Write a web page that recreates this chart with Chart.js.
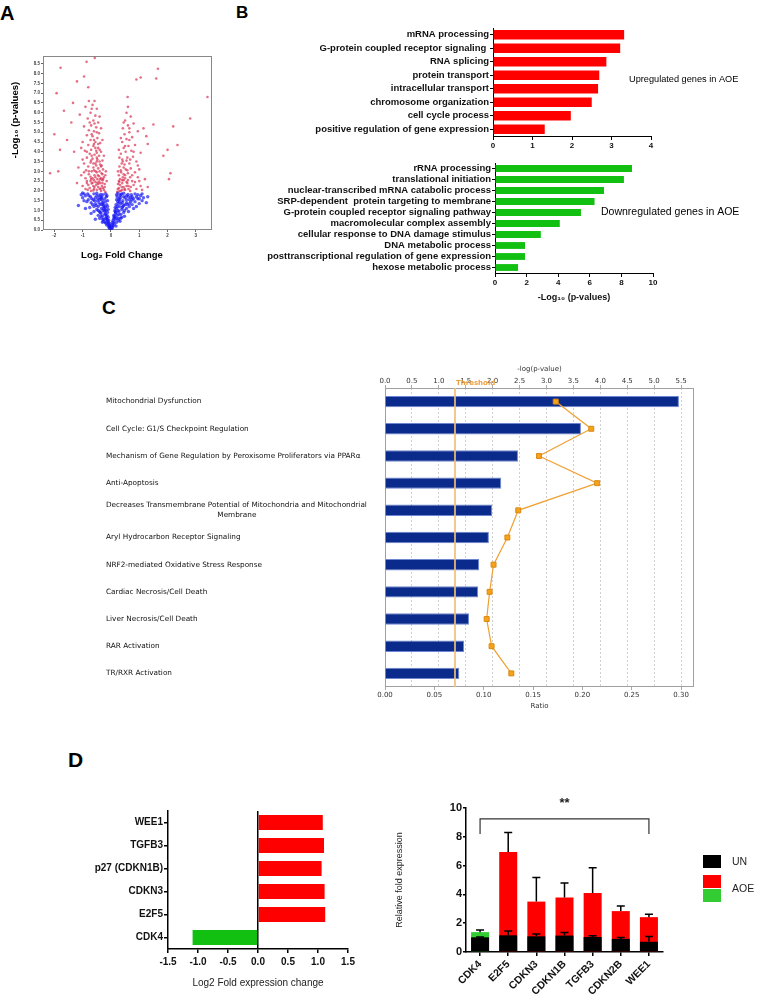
<!DOCTYPE html>
<html>
<head>
<meta charset="utf-8">
<script src="https://cdn.jsdelivr.net/npm/chart.js@4.4.1/dist/chart.umd.min.js"></script>
<style>
  body { margin: 0; background: #fff; }
  #page { position: relative; width: 772px; height: 1001px; overflow: hidden; font-family: 'Liberation Sans', Arial, sans-serif; }
  .letter { position: absolute; font-weight: bold; line-height: 1; color: #000; }
  canvas { position: absolute; }
</style>
</head>
<body>
<div id="page">
  <div class="letter" style="left:0px;top:3px;font-size:20px;">A</div>
  <div class="letter" style="left:236px;top:4px;font-size:17px;">B</div>
  <div class="letter" style="left:102px;top:298px;font-size:19px;">C</div>
  <div class="letter" style="left:68px;top:749px;font-size:21px;">D</div>

  <canvas id="volcano" width="220" height="230" style="left:0;top:40px;"></canvas>
  <canvas id="goUp" width="552" height="130" style="left:220px;top:20px;"></canvas>
  <canvas id="goDown" width="552" height="155" style="left:220px;top:150px;"></canvas>
  <canvas id="ipa" width="610" height="360" style="left:100px;top:355px;"></canvas>
  <canvas id="foldChange" width="340" height="200" style="left:20px;top:790px;"></canvas>
  <canvas id="qpcr" width="392" height="221" style="left:380px;top:780px;"></canvas>
</div>
<script>
// --- A: volcano plot, [log2 fold change, -log10 p] ---
const volcanoNonSig = [
  [-0.02,0.05],[-0.05,0.1],[-0.04,0.2],[-0.08,0.15],[-0.1,0.3],[-0.06,0.35],[-0.15,0.25],[-0.12,0.45],[-0.2,0.4],[-0.08,0.5],
  [-0.25,0.55],[-0.18,0.6],[-0.1,0.65],[-0.3,0.7],[-0.14,0.75],[-0.22,0.8],[-0.35,0.85],[-0.12,0.9],[-0.4,0.95],[-0.28,1.0],
  [-0.17,1.0],[-0.5,1.05],[-0.33,1.1],[-0.2,1.15],[-0.45,1.2],[-0.6,1.2],[-0.26,1.25],[-0.15,1.3],[-0.38,1.3],[-0.55,1.35],
  [-0.7,1.4],[-0.3,1.4],[-0.2,1.45],[-0.48,1.5],[-0.62,1.55],[-0.8,1.55],[-0.35,1.6],[-0.22,1.6],[-0.55,1.65],[-0.72,1.7],
  [-0.9,1.75],[-0.42,1.75],[-0.28,1.8],[-0.6,1.85],[-0.82,1.85],[-0.18,1.85],[-0.5,1.88],[-0.35,1.7],[-0.25,1.1],[-0.4,0.6],
  [-0.05,0.25],[-0.3,0.4],[-0.45,0.75],[-0.6,0.95],[-0.75,1.15],[-0.95,1.5],[-1.0,1.65],[-1.05,1.8],[-0.15,0.55],[-0.22,0.95],
  [-0.32,1.3],[-0.12,1.2],[-0.4,1.55],[-0.65,1.3],[-0.85,1.45],[-1.15,1.25],[-0.55,0.55],[-0.7,0.85],[-0.9,1.1],[-0.16,1.7],
  [-0.03,0.15],[-0.06,0.22],[-0.09,0.38],[-0.13,0.52],[-0.16,0.68],[-0.19,0.82],[-0.21,1.02],[-0.24,1.2],[-0.27,1.36],[-0.3,1.52],
  [-0.33,1.66],[-0.36,1.82],[-0.42,1.4],[-0.45,1.0],[-0.35,0.7],[-0.26,0.45],[-0.18,0.35],[-0.5,1.75],[-0.58,1.5],[-0.68,1.6],
  [-0.78,1.75],[-0.45,1.62],[-0.52,1.25],[-0.38,0.9],[-0.3,0.55],[-0.95,1.85],[-1.0,1.9],[-0.12,1.5],[-0.14,1.75],[-0.1,1.05],
  [0.02,0.05],[0.05,0.12],[0.08,0.2],[0.04,0.3],[0.12,0.3],[0.1,0.4],[0.2,0.4],[0.08,0.5],[0.15,0.55],[0.28,0.6],
  [0.12,0.7],[0.22,0.75],[0.35,0.8],[0.16,0.85],[0.45,0.9],[0.28,0.95],[0.14,1.0],[0.38,1.05],[0.55,1.1],[0.2,1.1],
  [0.3,1.2],[0.65,1.2],[0.45,1.25],[0.18,1.3],[0.75,1.3],[0.35,1.35],[0.55,1.4],[0.24,1.45],[0.85,1.45],[0.42,1.5],
  [0.65,1.55],[0.28,1.6],[0.95,1.6],[0.5,1.65],[0.75,1.7],[0.22,1.7],[1.05,1.75],[0.35,1.8],[0.6,1.82],[0.85,1.85],
  [0.25,1.88],[0.45,1.88],[1.1,1.5],[1.0,1.35],[0.9,1.2],[0.62,0.95],[0.48,0.7],[0.32,0.45],[0.18,0.2],[0.25,1.0],
  [0.4,1.4],[0.7,1.45],[0.55,1.75],[0.3,1.55],[0.15,0.95],[0.8,1.1],[1.15,1.65],[0.38,0.65],[0.5,1.3],[0.7,1.65],
  [0.95,1.8],[0.1,0.75],[0.05,0.4],[1.25,1.4],[1.3,1.7],[0.2,1.55],[0.32,1.75],
  [0.03,0.15],[0.06,0.25],[0.1,0.6],[0.14,0.65],[0.18,0.9],[0.22,1.2],[0.26,1.35],[0.3,1.45],[0.34,1.65],[0.38,1.85],
  [0.42,1.2],[0.48,1.0],[0.35,0.6],[0.26,0.5],[0.55,1.55],[0.62,1.7],[0.72,1.8],[0.8,1.6],[0.9,1.7],[1.0,1.6],
  [0.45,1.7],[0.58,1.3],[0.2,0.6],[0.28,0.8],[0.65,1.35],[0.75,1.55],[1.1,1.85],[0.2,1.8],[0.15,1.15],[0.4,1.15]
];
const volcanoSig = [
  [-0.2,1.95],[-0.35,2.0],[-0.5,2.05],[-0.7,2.0],[-0.9,2.1],[-0.28,2.15],[-0.45,2.2],[-0.62,2.25],[-0.8,2.3],[-1.0,2.25],
  [-0.22,2.35],[-0.38,2.4],[-0.55,2.45],[-0.72,2.5],[-0.3,2.55],[-0.48,2.6],[-0.65,2.65],[-0.9,2.65],[-0.25,2.7],[-0.42,2.75],
  [-0.58,2.8],[-0.78,2.85],[-1.05,2.8],[-0.33,2.9],[-0.5,2.95],[-0.68,3.0],[-0.88,3.05],[-0.28,3.1],[-0.45,3.15],[-0.62,3.2],
  [-0.8,3.25],[-0.38,3.35],[-0.55,3.4],[-0.72,3.45],[-0.95,3.4],[-0.3,3.55],[-0.48,3.6],[-0.65,3.65],[-0.85,3.7],[-0.42,3.8],
  [-0.58,3.85],[-0.75,3.9],[-0.35,4.0],[-0.52,4.05],[-0.7,4.1],[-0.92,4.05],[-0.45,4.2],[-0.62,4.3],[-0.8,4.35],[-0.38,4.45],
  [-0.55,4.5],[-0.72,4.6],[-1.0,4.5],[-0.48,4.7],[-0.65,4.8],[-0.85,4.85],[-0.42,4.95],[-0.6,5.05],[-0.78,5.1],[-0.52,5.25],
  [-0.7,5.35],[-0.95,5.3],[-0.45,5.5],[-0.62,5.6],[-0.82,5.7],[-0.55,5.85],[-0.72,6.0],[-0.5,6.2],[-0.65,6.4],[-0.9,6.3],
  [-1.1,5.9],[-1.15,3.2],[-1.2,2.4],[-0.15,2.5],[-0.18,3.0],[-0.25,3.8],[-0.3,4.6],[-0.35,5.2],[-0.4,2.1],[-0.6,2.1],
  [-0.75,2.15],[-0.32,2.25],[-0.52,2.3],[-0.68,2.38],[-0.42,2.48],[-0.6,2.55],[-0.35,2.65],[-0.55,2.7],[-0.72,2.72],[-0.4,3.0],
  [-0.6,3.05],[-0.35,3.25],[-0.52,3.3],[-0.7,3.55],[-0.5,3.95],[-0.6,4.4],[-0.58,6.6],[-0.78,6.6],[-1.05,4.2],[-1.3,4.0],
  [-1.4,5.5],[-0.25,2.05],[-0.45,2.35],[-0.65,2.42],[-0.3,2.85],[-0.5,3.5],[-0.4,4.1],[-0.68,4.9],[-0.58,5.45],[-0.85,2.4],
  [-0.22,2.2],[-0.3,2.4],[-0.38,2.6],[-0.46,2.8],[-0.54,3.0],[-0.62,3.4],[-0.5,3.7],[-0.4,3.5],[-0.33,3.3],[-0.28,2.6],
  [-0.78,3.0],[-0.85,2.5],[-0.95,2.95],[-0.68,3.8],[-0.55,4.2],[-0.45,4.4],[-0.6,4.6],[-0.75,5.5],[-0.5,5.0],[-0.4,5.8],
  [-0.68,6.2],[-0.85,4.0],[-1.0,3.6],[-0.2,2.8],[-0.58,2.2],[-0.7,2.6],[-0.48,2.42],[-0.36,2.12],[-0.62,2.02],[-0.82,2.05],
  [0.22,1.95],[0.35,2.0],[0.5,2.05],[0.68,2.0],[0.9,2.1],[0.28,2.15],[0.45,2.2],[0.62,2.25],[0.8,2.3],[1.05,2.25],
  [0.25,2.35],[0.4,2.4],[0.55,2.45],[0.75,2.5],[0.32,2.6],[0.5,2.65],[0.68,2.7],[0.95,2.7],[0.28,2.8],[0.45,2.85],
  [0.6,2.9],[0.85,2.95],[0.35,3.05],[0.52,3.1],[0.7,3.15],[1.0,3.1],[0.3,3.25],[0.48,3.35],[0.65,3.4],[0.9,3.5],
  [0.4,3.6],[0.58,3.7],[0.78,3.75],[0.35,3.9],[0.52,4.0],[0.72,4.05],[1.05,3.95],[0.45,4.2],[0.62,4.3],[0.85,4.35],
  [0.4,4.5],[0.55,4.65],[0.75,4.75],[0.48,4.9],[0.65,5.0],[0.95,5.05],[0.42,5.2],[0.6,5.35],[0.8,5.45],[0.5,5.6],
  [0.7,5.8],[0.55,6.0],[1.15,5.2],[1.25,4.8],[1.2,2.6],[0.3,2.45],[0.38,2.2],[0.55,2.25],[0.42,2.7],[0.6,2.55],
  [0.25,3.0],[0.38,3.4],[0.28,4.1],[0.45,3.2],[0.62,2.1],[1.1,2.05],[1.3,2.2],[0.6,6.3],[0.3,2.0],[0.45,2.55],
  [0.24,2.1],[0.32,2.3],[0.4,2.55],[0.5,2.8],[0.58,3.05],[0.36,2.95],[0.42,3.5],[0.55,3.55],[0.68,3.6],[0.3,3.7],
  [0.5,4.3],[0.65,4.6],[0.35,4.7],[0.75,2.8],[0.85,2.45],[0.95,3.3],[0.58,2.4],[0.48,2.1],[0.7,2.2],[0.28,2.5],
  [0.8,4.0],[0.45,5.5],[0.65,5.2],[1.0,2.5],[0.4,2.05],
  [-1.78,8.3],[-1.92,7.0],[-2.0,4.9],[-2.15,2.9],[-1.86,3.0],[-1.2,7.6],[-0.86,8.6],[-0.95,7.85],[-0.57,8.8],[-0.8,7.3],
  [1.66,8.25],[1.6,7.75],[0.9,7.7],[1.05,7.8],[0.59,6.8],[3.41,6.8],[2.8,5.7],[2.2,5.3],[2.35,4.35],[1.85,3.8],
  [2.0,4.1],[2.1,2.9],[2.05,2.6],[1.3,4.4],[1.5,5.4],[-1.8,4.1],[-1.55,4.6],[-1.66,6.1],[-1.34,6.5]
];

// --- B: GO terms, -log10(p) ---
const upTerms = ['mRNA processing', 'G-protein coupled receptor signaling ', 'RNA splicing', 'protein transport',
  'intracellular transport', 'chromosome organization', 'cell cycle process', 'positive regulation of gene expression'];
const upNegLogP = [3.32, 3.22, 2.87, 2.69, 2.66, 2.50, 1.97, 1.31];
const downTerms = ['rRNA processing', 'translational initiation', 'nuclear-transcribed mRNA catabolic process',
  'SRP-dependent  protein targeting to membrane', 'G-protein coupled receptor signaling pathway',
  'macromolecular complex assembly', 'cellular response to DNA damage stimulus', 'DNA metabolic process',
  'posttranscriptional regulation of gene expression', 'hexose metabolic process'];
const downNegLogP = [8.67, 8.16, 6.9, 6.3, 5.44, 4.1, 2.9, 1.9, 1.9, 1.46];

// --- C: IPA canonical pathways ---
const ipaPathways = ['Mitochondrial Dysfunction', 'Cell Cycle: G1/S Checkpoint Regulation',
  'Mechanism of Gene Regulation by Peroxisome Proliferators via PPARα', 'Anti-Apoptosis',
  'Decreases Transmembrane Potential of Mitochondria and Mitochondrial Membrane',
  'Aryl Hydrocarbon Receptor Signaling', 'NRF2-mediated Oxidative Stress Response',
  'Cardiac Necrosis/Cell Death', 'Liver Necrosis/Cell Death', 'RAR Activation', 'TR/RXR Activation'];
const ipaNegLogP = [5.46, 3.64, 2.47, 2.16, 1.99, 1.93, 1.75, 1.73, 1.56, 1.47, 1.38];
const ipaRatio = [0.173, 0.209, 0.156, 0.215, 0.135, 0.124, 0.110, 0.106, 0.103, 0.108, 0.128];
const ipaThreshold = 1.3;

// --- D: fold change and qPCR ---
const foldGenes = ['WEE1', 'TGFB3', 'p27 (CDKN1B)', 'CDKN3', 'E2F5', 'CDK4'];
const foldLog2 = [1.08, 1.10, 1.06, 1.11, 1.12, -1.09];
const qpcrGenes = ['CDK4', 'E2F5', 'CDKN3', 'CDKN1B', 'TGFB3', 'CDKN2B', 'WEE1'];
const qpcrUN = [1.02, 1.16, 1.09, 1.14, 1.04, 0.91, 0.71];
const qpcrUNErr = [1.05, 1.45, 1.25, 1.35, 1.12, 1.0, 1.07];
const qpcrAOE = [1.38, 6.95, 3.5, 3.78, 4.1, 2.84, 2.42];
const qpcrAOEErr = [1.52, 8.3, 5.17, 4.8, 5.85, 3.2, 2.63];
const qpcrLegend = ['UN', 'AOE', ''];

const RED = '#ff0000';
const GREEN = '#11c011';

Chart.defaults.font.family = "'Liberation Sans', Arial, sans-serif";
Chart.defaults.color = '#111';

// free text drawn on a chart canvas
const notesPlugin = {
  id: 'notes',
  afterDraw(chart, args, opts) {
    const ctx = chart.ctx;
    (opts.items || []).forEach(it => {
      ctx.save();
      ctx.font = it.font;
      ctx.fillStyle = it.color || '#000';
      ctx.textAlign = it.align || 'left';
      ctx.textBaseline = 'middle';
      ctx.translate(it.x, it.y);
      if (it.rotate) ctx.rotate(it.rotate);
      ctx.fillText(it.text, 0, 0);
      ctx.restore();
    });
  }
};

// plain box around the plot area
const framePlugin = {
  id: 'frame',
  beforeDatasetsDraw(chart, args, opts) {
    const { ctx, chartArea: a } = chart;
    ctx.save();
    ctx.strokeStyle = opts.color || '#888';
    ctx.lineWidth = 1;
    ctx.strokeRect(a.left + 0.5, a.top + 0.5, a.right - a.left - 1, a.bottom - a.top - 1);
    ctx.restore();
  }
};

const baseOpts = { animation: false, responsive: false };
const noLegend = { legend: { display: false }, tooltip: { enabled: false } };

// ---------- A ----------
new Chart(document.getElementById('volcano'), {
  type: 'scatter',
  data: {
    datasets: [
      { data: volcanoNonSig.map(p => ({ x: p[0], y: p[1] })), pointBackgroundColor: 'rgba(25,25,245,0.7)', pointRadius: 1.7, pointBorderWidth: 0 },
      { data: volcanoSig.map(p => ({ x: p[0], y: p[1] })), pointBackgroundColor: 'rgba(215,35,70,0.65)', pointRadius: 1.3, pointBorderWidth: 0 }
    ]
  },
  options: {
    ...baseOpts,
    layout: { padding: { top: 16, right: 8, left: 0, bottom: 0 } },
    scales: {
      x: {
        type: 'linear', min: -2.4, max: 3.57,
        afterFit: s => { s.height = 40; },
        ticks: { stepSize: 1, includeBounds: false, font: { size: 4.5, weight: 'bold' }, padding: 1, color: '#444', maxRotation: 0 },
        grid: { drawOnChartArea: false, tickLength: 2, color: '#666' },
        border: { display: false }
      },
      y: {
        min: 0, max: 8.9,
        afterFit: s => { s.width = 43; },
        ticks: { stepSize: 0.5, includeBounds: false, autoSkip: false, callback: v => v.toFixed(1), font: { size: 4.5, weight: 'bold' }, padding: 1, color: '#444' },
        grid: { drawOnChartArea: false, tickLength: 2, color: '#666' },
        border: { display: false }
      }
    },
    plugins: {
      ...noLegend,
      frame: { color: '#888' },
      notes: { items: [
        { text: 'Log\u2082 Fold Change', x: 122, y: 215, font: 'bold 9.5px "Liberation Sans", Arial', align: 'center' },
        { text: '-Log\u2081\u2080 (p-values)', x: 15, y: 80, font: 'bold 9.5px "Liberation Sans", Arial', align: 'center', rotate: -Math.PI / 2 }
      ] }
    }
  },
  plugins: [framePlugin, notesPlugin]
});

// ---------- B ----------
function termChart(id, terms, values, color, cfg) {
  return new Chart(document.getElementById(id), {
    type: 'bar',
    data: { labels: terms, datasets: [{ data: values, backgroundColor: color, barPercentage: cfg.barPct, categoryPercentage: 1 }] },
    options: {
      ...baseOpts,
      indexAxis: 'y',
      layout: { padding: { top: cfg.top, right: cfg.right, left: 0, bottom: 0 } },
      scales: {
        y: {
          afterFit: s => { s.width = cfg.yWidth; },
          ticks: { font: { size: 9.5, weight: 'bold' }, color: '#111', padding: 1, autoSkip: false },
          grid: { drawOnChartArea: false, offset: false, tickLength: 3, color: '#000' },
          border: { color: '#000', width: 1 }
        },
        x: {
          min: 0, max: cfg.max,
          afterFit: s => { s.height = cfg.xHeight; },
          ticks: { stepSize: cfg.step, font: { size: 8, weight: 'bold' }, padding: 1, color: '#111', maxRotation: 0 },
          grid: { drawOnChartArea: false, tickLength: 4, color: '#000' },
          border: { color: '#000', width: 1 },
          title: cfg.title ? { display: true, text: cfg.title, font: { size: 9, weight: 'bold' }, color: '#111', padding: { top: 0, bottom: 2 } } : { display: false }
        }
      },
      plugins: { ...noLegend, notes: { items: cfg.notes } }
    },
    plugins: [notesPlugin]
  });
}

termChart('goUp', upTerms, upNegLogP, RED, {
  top: 8, right: 121, yWidth: 273, xHeight: 14, max: 4, step: 1, barPct: 0.7,
  notes: [{ text: 'Upregulated genes in AOE', x: 409, y: 59, font: '9.2px "Liberation Sans", Arial' }]
});
termChart('goDown', downTerms, downNegLogP, GREEN, {
  top: 13, right: 119, yWidth: 275, xHeight: 32, max: 10, step: 2, barPct: 0.62,
  title: '-Log\u2081\u2080 (p-values)',
  notes: [{ text: 'Downregulated genes in AOE', x: 381, y: 62, font: '10.5px "Liberation Sans", Arial' }]
});

// ---------- C ----------
const ipaFont = { family: "'DejaVu Sans', Verdana, sans-serif", size: 7 };
const ipaLabelFont = { family: "'DejaVu Sans', Verdana, sans-serif", size: 7.3, lineHeight: 1.4 };
// long pathway names go on two lines, the second one centred under the first
const measureCtx = document.createElement('canvas').getContext('2d');
measureCtx.font = '7.3px "DejaVu Sans"';
function wrapPathway(name, maxW) {
  if (measureCtx.measureText(name).width <= maxW) return name;
  const words = name.split(' ');
  let first = '';
  while (words.length && measureCtx.measureText((first ? first + ' ' : '') + words[0]).width <= maxW) {
    first = (first ? first + ' ' : '') + words.shift();
  }
  const second = words.join(' ');
  const gap = measureCtx.measureText(first).width - measureCtx.measureText(second).width;
  const pad = Math.max(0, Math.round(gap / 2 / measureCtx.measureText(' ').width));
  return [first, ' '.repeat(pad) + second];
}

const thresholdPlugin = {
  id: 'threshold',
  afterDatasetsDraw(chart, args, opts) {
    const { ctx, chartArea: a } = chart;
    const px = chart.scales.x2.getPixelForValue(opts.value);
    ctx.save();
    ctx.strokeStyle = 'rgba(240,190,120,0.85)';
    ctx.lineWidth = 2;
    ctx.beginPath(); ctx.moveTo(px, a.top); ctx.lineTo(px, a.bottom); ctx.stroke();
    ctx.font = 'bold 7px "DejaVu Sans", Verdana';
    ctx.fillStyle = '#eea040';
    ctx.textBaseline = 'middle';
    ctx.fillText('Threshold', px + 1, a.top - 5);
    ctx.restore();
  }
};

new Chart(document.getElementById('ipa'), {
  type: 'bar',
  data: {
    labels: ipaPathways.map(p => wrapPathway(p, 292)),
    datasets: [
      {
        type: 'line', data: ipaRatio, xAxisID: 'x', yAxisID: 'y', indexAxis: 'y', order: 0,
        borderColor: '#eea033', borderWidth: 1.2, pointStyle: 'rect', pointRadius: 3.5,
        pointBackgroundColor: '#f7a21b', pointBorderColor: '#d98a10', pointBorderWidth: 1
      },
      {
        type: 'bar', data: ipaNegLogP, xAxisID: 'x2', yAxisID: 'y', indexAxis: 'y', order: 1,
        backgroundColor: '#0b2b8c', borderColor: '#6d86cf', borderWidth: 1,
        barPercentage: 0.42, categoryPercentage: 1
      }
    ]
  },
  options: {
    ...baseOpts,
    indexAxis: 'y',
    layout: { padding: { top: 0, right: 16, left: 6, bottom: 0 } },
    scales: {
      y: {
        afterFit: s => { s.width = 279; },
        ticks: { crossAlign: 'far', font: ipaLabelFont, color: '#111', autoSkip: false },
        grid: { display: false },
        border: { display: false }
      },
      x2: {
        position: 'top', min: 0, max: 5.74,
        afterFit: s => { s.height = 33; },
        ticks: { stepSize: 0.5, includeBounds: false, autoSkip: false, maxRotation: 0, callback: v => v.toFixed(1), font: ipaFont, color: '#333', padding: 0 },
        grid: { color: '#cfcfcf', tickLength: 3, tickColor: '#aaa' },
        border: { display: false, dash: [2, 2] },
        title: { display: true, text: '-log(p-value)', font: ipaFont, color: '#333', padding: { top: 10, bottom: 0 } }
      },
      x: {
        position: 'bottom', min: 0, max: 0.3131,
        afterFit: s => { s.height = 28; },
        ticks: { stepSize: 0.05, includeBounds: false, autoSkip: false, maxRotation: 0, callback: v => v.toFixed(2), font: ipaFont, color: '#333', padding: 1 },
        grid: { drawOnChartArea: false, tickLength: 3, color: '#aaa' },
        border: { display: false },
        title: { display: true, text: 'Ratio', font: ipaFont, color: '#333', padding: { top: 0, bottom: 5 } }
      }
    },
    plugins: { ...noLegend, frame: { color: '#a0a0a0' }, threshold: { value: ipaThreshold } }
  },
  plugins: [framePlugin, thresholdPlugin]
});

// ---------- D left ----------
new Chart(document.getElementById('foldChange'), {
  type: 'bar',
  data: {
    labels: foldGenes,
    datasets: [{ data: foldLog2, backgroundColor: foldLog2.map(v => v < 0 ? GREEN : RED), barPercentage: 0.65, categoryPercentage: 1 }]
  },
  options: {
    ...baseOpts,
    indexAxis: 'y',
    layout: { padding: { top: 21, right: 12, left: 0, bottom: 0 } },
    scales: {
      y: {
        afterFit: s => { s.width = 148; },
        ticks: { font: { size: 10, weight: 'bold' }, color: '#111', padding: 1, autoSkip: false },
        grid: { drawOnChartArea: false, offset: false, tickLength: 4, color: '#000', lineWidth: 1.5 },
        border: { color: '#000', width: 1.5 }
      },
      x: {
        min: -1.5, max: 1.5,
        afterFit: s => { s.height = 41; },
        ticks: { stepSize: 0.5, autoSkip: false, maxRotation: 0, callback: v => v.toFixed(1), font: { size: 10, weight: 'bold' }, color: '#111', padding: 3 },
        grid: { color: c => (c.tick && c.tick.value === 0 ? '#000' : 'rgba(0,0,0,0)'), lineWidth: 1.5, tickColor: '#000', tickLength: 4 },
        border: { color: '#000', width: 1.5 },
        title: { display: true, text: 'Log2 Fold expression change', font: { size: 10 }, color: '#222', padding: { top: 0, bottom: 1 } }
      }
    },
    plugins: noLegend
  }
});

// ---------- D right ----------
const qpcrExtras = {
  id: 'qpcrExtras',
  afterDatasetsDraw(chart, args, opts) {
    const { ctx, scales: { x, y } } = chart;
    ctx.save();
    ctx.strokeStyle = '#000';
    ctx.lineWidth = 1.5;
    opts.errorSets.forEach(set => {
      set.values.forEach((v, i) => {
        const cx = x.getPixelForValue(i);
        const y0 = y.getPixelForValue(v);
        const y1 = y.getPixelForValue(set.upper[i]);
        ctx.beginPath();
        ctx.moveTo(cx, y0); ctx.lineTo(cx, y1);
        ctx.moveTo(cx - 4, y1); ctx.lineTo(cx + 4, y1);
        ctx.stroke();
      });
    });
    // significance bracket from first to last gene
    const xa = x.getPixelForValue(0), xb = x.getPixelForValue(opts.labels.length - 1);
    const yTop = y.getPixelForValue(opts.bracketAt), yFoot = y.getPixelForValue(opts.bracketFoot);
    ctx.lineWidth = 1.2;
    ctx.strokeStyle = '#333';
    ctx.beginPath();
    ctx.moveTo(xa, yFoot); ctx.lineTo(xa, yTop); ctx.lineTo(xb, yTop); ctx.lineTo(xb, yFoot);
    ctx.stroke();
    ctx.fillStyle = '#222';
    ctx.font = 'bold 13px "Liberation Sans", Arial';
    ctx.textAlign = 'center';
    ctx.textBaseline = 'middle';
    ctx.fillText(opts.star, (xa + xb) / 2, y.getPixelForValue(opts.starAt));
    // legend: UN, AOE, and the unlabelled green key
    const keyColors = ['#000', RED, '#33cc33'];
    const keyTops = [75, 95, 109];
    keyColors.forEach((c, i) => { ctx.fillStyle = c; ctx.fillRect(323, keyTops[i], 18, 13); });
    ctx.fillStyle = '#222';
    ctx.font = '10.5px "Liberation Sans", Arial';
    ctx.textAlign = 'left';
    ctx.fillText(qpcrLegend[0], 352, 82);
    ctx.fillText(qpcrLegend[1], 352, 109);
    ctx.restore();
  }
};

new Chart(document.getElementById('qpcr'), {
  type: 'bar',
  data: {
    labels: qpcrGenes,
    datasets: [
      { label: 'UN', data: qpcrUN, backgroundColor: '#000', grouped: false, barPercentage: 0.64, categoryPercentage: 1 },
      { label: 'AOE', data: qpcrAOE, backgroundColor: qpcrGenes.map(g => g === 'CDK4' ? '#33cc33' : RED), grouped: false, barPercentage: 0.64, categoryPercentage: 1 }
    ]
  },
  options: {
    ...baseOpts,
    layout: { padding: { top: 28, right: 109, left: 0, bottom: 0 } },
    scales: {
      x: {
        afterFit: s => { s.height = 49; },
        ticks: { font: { size: 10.5, weight: 'bold' }, color: '#111', minRotation: 45, maxRotation: 45, padding: 2, autoSkip: false },
        grid: { drawOnChartArea: false, offset: false, tickLength: 4, color: '#000', lineWidth: 1.5 },
        border: { color: '#000', width: 1.5 }
      },
      y: {
        min: 0, max: 10,
        afterFit: s => { s.width = 86; },
        ticks: { stepSize: 2, font: { size: 11, weight: 'bold' }, color: '#111', padding: 1 },
        grid: { drawOnChartArea: false, tickLength: 3, color: '#000', lineWidth: 1.5 },
        border: { color: '#000', width: 1.5 },
        title: { display: true, text: 'Relative fold expression', font: { size: 9 }, color: '#222', padding: { top: 14.6, bottom: 0 } }
      }
    },
    plugins: {
      ...noLegend,
      qpcrExtras: {
        labels: qpcrGenes,
        errorSets: [{ values: qpcrAOE, upper: qpcrAOEErr }, { values: qpcrUN, upper: qpcrUNErr }],
        bracketAt: 9.25, bracketFoot: 8.2, starAt: 10.35, star: '**'
      }
    }
  },
  plugins: [qpcrExtras]
});
</script>
</body>
</html>
